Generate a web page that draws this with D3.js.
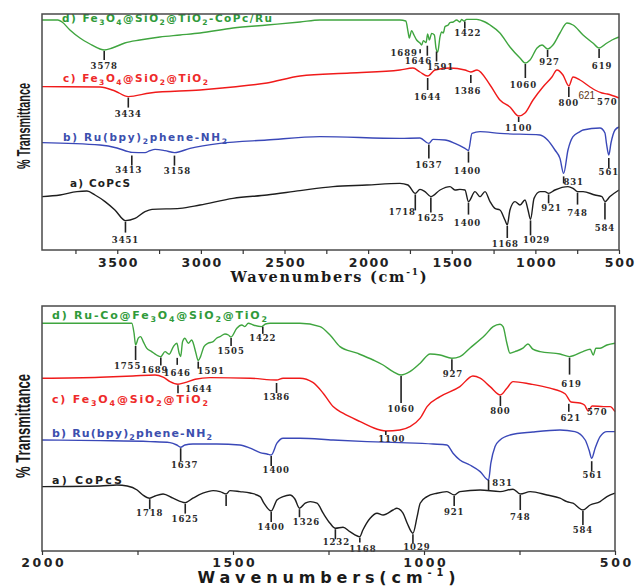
<!DOCTYPE html>
<html>
<head>
<meta charset="UTF-8">
<title>FTIR spectra</title>
<style>
  body { margin: 0; background: #fff; }
  .frame { fill: none; stroke: #4a4a4a; stroke-width: 1.5; }
  .curve { fill: none; stroke-width: 1.4; stroke-linejoin: round; }
  .axis path { display: none; }
  .axis line { stroke: #333; stroke-width: 1.2; }
  .axis text { font-family: "DejaVu Sans", sans-serif; font-weight: bold; fill: #222; }
  .peak { font-family: "DejaVu Serif", serif; font-weight: bold; font-size: 8.5px; letter-spacing: 0.9px; fill: #2a2a2a; text-anchor: middle; }
  .peak-line { stroke: #222; stroke-width: 1.6; }
  .name { font-family: "DejaVu Sans", sans-serif; font-weight: bold; }
  .ylab { font-family: "Liberation Sans Narrow", "Arial Narrow", sans-serif; font-weight: bold; fill: #1a1a1a; text-anchor: middle; }
</style>
</head>
<body>
<svg width="635" height="587"></svg>
<script src="https://d3js.org/d3.v7.min.js"></script>
<script>

// ---- data (wavenumber cm-1, relative transmittance) ----
var topTicks = [3500, 3000, 2500, 2000, 1500, 1000, 500];
var botTicks = [2000, 1500, 1000, 500];

var topD = [[3950,115],[3855,115],[3830,114],[3783,110],[3723,106],[3663,103],[3603,100.5],[3578,100],[3530,101],[3455,103.5],[3365,105],[3245,106.5],[3125,107.5],[3005,108.5],[2808,111],[2605,112.5],[2407,114],[2288,115],[1810,115],[1775,114.5],[1760,108.5],[1754,106],[1740,109.7],[1726,107.5],[1710,105],[1690,103.5],[1680,102.5],[1670,104.7],[1654,103.7],[1644,108],[1634,105],[1620,108.3],[1604,107.5],[1594,100.8],[1584,99],[1570,106.7],[1560,109],[1551,108.5],[1540,111.7],[1521,112.5],[1511,113.7],[1491,114],[1471,115],[1451,114],[1441,115.3],[1427,114.5],[1411,115.3],[1351,115.3],[1301,114],[1271,112.5],[1212,108.5],[1152,101.5],[1092,96],[1060,93.5],[1032,95],[990,101],[960,102.5],[927,100.5],[895,102.5],[853,108.5],[811,113.5],[775,112.5],[715,107.5],[656,103.5],[619,101],[572,103.5],[542,105],[500,106.5]];
var topC = [[3950,81.7],[3603,81.5],[3514,79.5],[3434,76.7],[3304,78.5],[3005,80],[2808,81.5],[2605,83.5],[2407,87],[2108,88.5],[1810,90],[1732,91],[1690,89],[1644,87],[1600,90],[1511,91],[1421,90],[1386,89],[1349,90],[1271,82.5],[1212,75],[1152,71.5],[1100,67],[1062,68.5],[1014,75],[955,81.5],[901,86.5],[871,90],[835,87.5],[800,82],[775,86.5],[733,85],[673,81.5],[644,80],[602,78.5],[570,78],[500,76]];
var topB = [[3950,53.7],[3603,52.5],[3502,51],[3434,49.2],[3413,48.8],[3334,48.7],[3304,49.7],[3274,50.3],[3215,49.7],[3158,48.7],[3065,50.8],[2886,53.3],[2605,55],[2288,56.7],[1810,55.8],[1690,56],[1637,53.3],[1612,55.3],[1540,55],[1481,53.3],[1421,50.8],[1400,49.7],[1379,58.3],[1331,59.2],[1212,58.3],[972,57.5],[927,55],[883,50],[853,45.8],[831,38.3],[805,50],[775,56.7],[733,59.2],[715,60],[614,61],[584,58.5],[575,53.3],[561,47.5],[548,53.5],[524,60],[500,61.5]];
var topA = [[3950,26.7],[3842,27.5],[3741,29.2],[3681,29.5],[3633,27.5],[3573,24.2],[3514,20],[3451,14.7],[3394,15.8],[3334,19.2],[3292,20.3],[3125,20.8],[3005,22.5],[2808,25.8],[2605,27.5],[2407,29.7],[2210,31.7],[2007,32.5],[1810,33.3],[1762,32.5],[1718,28.3],[1690,30.3],[1660,29.2],[1625,26.7],[1570,30],[1511,31.7],[1481,30],[1451,30.3],[1421,30],[1400,24.2],[1361,29.2],[1331,26.7],[1301,29.2],[1271,24.2],[1242,20.8],[1212,20],[1182,15],[1168,12.5],[1152,20],[1122,24.2],[1092,22.5],[1062,25],[1044,20],[1029,15.3],[1008,25.8],[972,29.2],[943,29.2],[921,28.3],[883,30],[805,31.7],[775,30.8],[748,29.2],[715,29.2],[644,27.5],[602,26.7],[584,24.2],[554,26.7],[500,30]];

var botD = [[2000,113.9],[1765,113.9],[1759,108.9],[1755,103],[1748,106.4],[1742,107.2],[1735,104.7],[1726,101.4],[1713,99.7],[1700,98],[1689,97.2],[1678,99.7],[1667,98.4],[1656,102.2],[1647,103.9],[1641,98.9],[1637,97.2],[1632,104.7],[1626,106.4],[1617,103.9],[1608,105.5],[1604,103.9],[1597,98.9],[1591,95.2],[1585,97.2],[1576,102.2],[1565,103.9],[1552,104.7],[1543,106.4],[1534,107.2],[1521,108.5],[1512,108],[1505,107],[1490,111.4],[1477,113],[1469,112.2],[1460,113.9],[1447,113],[1425,112.2],[1415,113.5],[1403,113.9],[1325,113.9],[1272,112.2],[1246,108],[1220,102.2],[1175,98.9],[1133,95.5],[1107,93],[1081,89.7],[1060,88],[1037,89.7],[1010,93.9],[984,98.5],[958,98],[927,96.4],[906,97.2],[880,101.4],[840,108],[819,112.2],[801,113.4],[793,112.2],[783,103.9],[775,98.9],[762,99.7],[741,101.4],[728,103.5],[715,100.9],[696,99.7],[644,98.5],[619,97.2],[584,99.7],[565,100.9],[557,98],[550,101.4],[539,101.4],[521,103],[500,103.9]];
var botC = [[2000,86.4],[1848,86.9],[1762,87.5],[1704,88],[1683,86.9],[1665,84.7],[1644,83.4],[1626,84.2],[1599,85.9],[1560,86.7],[1455,86.4],[1386,85.5],[1369,86.4],[1325,86.4],[1291,84.3],[1264,78.9],[1238,72.2],[1212,68.9],[1167,64.7],[1115,60.5],[1100,60],[1063,60.5],[1037,62.2],[1010,66.4],[992,72.2],[958,77.2],[906,82.2],[872,87.5],[853,86.4],[827,82.2],[800,78],[783,81.4],[767,84.7],[722,83.5],[670,81.4],[630,78.5],[615,74.5],[592,74],[580,73],[570,70],[560,72.5],[530,72.2],[513,72.2],[500,69.7]];
var botB = [[2000,55.5],[1848,55.2],[1717,54.7],[1665,54.2],[1647,53],[1637,51.9],[1626,53],[1605,53.5],[1542,53.5],[1482,53],[1455,51.4],[1429,49.2],[1411,48.5],[1400,48],[1385,53.9],[1369,56.4],[1325,56.4],[1238,55.5],[1149,54.7],[1063,54.2],[976,53.5],[940,53],[924,48.9],[906,45.5],[880,43],[853,39.7],[831,35.5],[825,43.9],[814,52.2],[801,55.5],[775,58],[715,59.5],[644,60.5],[605,59.7],[578,55.5],[568,50.5],[561,46.4],[552,51.4],[539,57.2],[521,59.7],[500,59.7]];
var botA = [[2000,32.2],[1848,32.5],[1804,33],[1777,32.5],[1751,30.5],[1736,28],[1718,26.4],[1704,27.5],[1683,28.5],[1657,26.4],[1625,24.2],[1605,26.4],[1579,28.9],[1552,30.2],[1534,29.7],[1518,28.5],[1508,30.2],[1482,29.7],[1455,29],[1429,27.2],[1419,23.9],[1400,20],[1385,25.5],[1369,27.2],[1351,28],[1338,26],[1326,21.4],[1311,23.9],[1298,24.7],[1280,23.9],[1264,18.9],[1246,13.9],[1232,11.4],[1212,11.9],[1194,9.7],[1168,7.2],[1160,10.5],[1141,16.4],[1123,18.9],[1107,18],[1081,20.5],[1071,21.4],[1055,18.9],[1044,13.9],[1029,8.9],[1018,17.2],[1010,23.9],[992,27.2],[966,28.9],[940,29.7],[921,28],[906,29.7],[853,30.5],[801,29.7],[767,30.9],[748,28.5],[722,29.7],[678,28],[644,26.4],[626,24.7],[610,23.9],[584,20.5],[565,23],[539,24.7],[521,27.2],[500,28.9]];

// peak positions marked on each trace
var peaksTopD = [3578, 1689, 1646, 1591, 1422, 1060, 927, 619];
var peaksTopC = [3434, 1644, 1386, 1100, 800, 621, 570];
var peaksTopB = [3413, 3158, 1637, 1400, 831, 561];
var peaksTopA = [3451, 1718, 1625, 1400, 1168, 1029, 921, 748, 584];
var peaksBotD = [1755, 1689, 1646, 1591, 1505, 1422, 1060, 927, 619];
var peaksBotC = [1644, 1386, 1100, 800, 621, 570];
var peaksBotB = [1637, 1400, 831, 561];
var peaksBotA = [1718, 1625, 1400, 1326, 1232, 1168, 1029, 921, 748, 584];
var ticksOnlyBotA = [1518];

var namesTop = ["a) CoPcS", "b) Ru(bpy)_2phene-NH_2", "c) Fe_3O_4@SiO_2@TiO_2", "d) Fe_3O_4@SiO_2@TiO_2-CoPc/Ru"];
var namesBot = ["a) CoPcS", "b) Ru(bpy)_2phene-NH_2", "c) Fe_3O_4@SiO_2@TiO_2", "d) Ru-Co@Fe_3O_4@SiO_2@TiO_2"];

// ---- layout / styling ----
var colors = ["#1e1e1e", "#3a48b8", "#f01a1a", "#3fa53f"];
var nameColors = ["#1e1e1e", "#3c4fae", "#ee2a2a", "#2f9a3a"];

// annotation offsets: [gap below curve, tick length, label dx, label dy]
var layTop = [
  [[1,11,0,7],[1,16,-13,2],[1,15,0,5],[1,12,-1,8],[1,12,-2,6],[1,15,6,5],[1,9,3,5],[1,12,0,8],[1,17,0,8]],
  [[3,10,-3,5],[3,10,3,5],[1,14,0,7],[1,11,-1,8],[3,7,10,-1],[3,10,0,4]],
  [[1,10,0,6],[2,12,0,7],[3,8,-3,8],[1,5,0,6],[1,10,0,6],[0,0,-12,4],[0,0,0,8]],
  [[1,9,0,6],[6,4,-16,0],[10,10,-9,5],[2,10,4,6],[1,7,3,5],[1,14,-2,7],[1,7,2,5],[1,9,3,8]]
];
var layBot = [
  [[1,10,0,4],[1,10,0,5],[1,10,0,5],[1,8,7,5],[1,10,1,3],[1,5,3,6],[1,9,4,4],[1,10,0,6],[1,15,0,7],[1,14,0,5]],
  [[1,13,4,4],[1,10,5,4],[0,10,14,-7],[3,10,1,4]],
  [[1,8,21,-4],[3,10,0,4],[0,4,6,4],[1,10,0,5],[5,8,2,6],[0,0,9,1]],
  [[1,14,-8,6],[1,8,-6,4],[13,7,0,8],[1,7,13,2],[1,8,0,5],[1,7,0,4],[1,27,0,6],[1,11,1,4],[1,17,2,9]]
];

var panels = [
  { left: 42, right: 619, top: 14, bottom: 250, dom: [3950, 500], vmax: 118,
    ticks: topTicks, minor: d3.range(3750, 500, -500), tickSize: 12.5, tickSpace: 1.6, tickY: 262,
    series: [topA, topB, topC, topD], peaks: [peaksTopA, peaksTopB, peaksTopC, peaksTopD], lay: layTop,
    names: namesTop, nameX: [70, 63, 63, 62], nameY: [187, 141, 82, 22], nameLen: [60, 164, 145, 210], nameSize: 10.5,
    title: "Wavenumbers (cm^-1)", titleY: 282, titleLen: 196, titleSize: 14.5, titleFont: "DejaVu Serif",
    ylabY: 126, ylabLen: 86, ylabSize: 18 },
  { left: 42, right: 615, top: 306, bottom: 551, dom: [2000, 500], vmax: 122.5,
    ticks: botTicks, minor: [1750, 1250, 750], tickSize: 12.5, tickSpace: 2.6, tickY: 562,
    series: [botA, botB, botC, botD], peaks: [peaksBotA, peaksBotB, peaksBotC, peaksBotD], lay: layBot,
    names: namesBot, nameX: [52, 52, 52, 52], nameY: [484, 437, 403, 319], nameLen: [70, 160, 156, 215], nameSize: 11,
    title: "Wavenumbers(cm^-1)", titleY: 583, titleLen: 258, titleSize: 16, titleFont: "DejaVu Sans",
    ylabY: 426, ylabLen: 104, ylabSize: 21 }
];

var svg = d3.select("svg");

// text with _x subscripts and ^-1 superscript
function rich(sel, str, size) {
  var parts = str.match(/_.|\^-1|[^_^]+/g);
  var shift = 0;
  parts.forEach(function (p) {
    var t = sel.append("tspan"), s = 0, txt = p;
    if (p[0] === "_") { s = size * 0.3; txt = p.slice(1); t.attr("font-size", size * 0.72); }
    else if (p[0] === "^") { s = -size * 0.45; txt = p.slice(1); t.attr("font-size", size * 0.62); }
    t.attr("dy", s - shift).text(txt);
    shift = s;
  });
}

function valueAt(series, wn) {
  for (var i = 0; i < series.length - 1; i++) {
    var a = series[i], b = series[i + 1];
    if (wn <= a[0] && wn >= b[0]) {
      var t = (a[0] - wn) / (a[0] - b[0] || 1);
      return a[1] + (b[1] - a[1]) * t;
    }
  }
  return series[series.length - 1][1];
}

panels.forEach(function (p) {
  var x = d3.scaleLinear().domain(p.dom).range([p.left, p.right]);
  var y = d3.scaleLinear().domain([0, p.vmax]).range([p.bottom, p.top]);
  var g = svg.append("g");

  var line = d3.line()
      .x(function (d) { return x(d[0]); })
      .y(function (d) { return y(d[1]); })
      .curve(d3.curveMonotoneX);

  p.series.forEach(function (s, i) {
    g.append("path").attr("class", "curve").attr("d", line(s)).attr("stroke", colors[i]);
  });

  // peak markers
  p.series.forEach(function (s, i) {
    p.peaks[i].forEach(function (wn, j) {
      var l = p.lay[i][j];
      var cx = x(wn), cy = y(valueAt(s, wn));
      var t0 = cy + l[0], t1 = t0 + l[1];
      if (l[1] > 0) {
        g.append("line").attr("class", "peak-line")
            .attr("x1", cx).attr("x2", cx).attr("y1", t0).attr("y2", t1);
      }
      var lab = g.append("text").attr("class", "peak")
          .attr("x", cx + l[2]).attr("y", t1 + l[3]).attr("dy", "0.35em").text(wn);
      if (p === panels[0] && wn === 621) {
        lab.style("font-family", "'Liberation Sans', sans-serif").style("font-weight", "normal")
            .style("font-size", "10px").style("letter-spacing", "0px").style("fill", "#5a3414");
      }
    });
  });
  if (p === panels[1]) {
    ticksOnlyBotA.forEach(function (wn) {
      var cx = x(wn), cy = y(valueAt(botA, wn));
      g.append("line").attr("class", "peak-line")
          .attr("x1", cx).attr("x2", cx).attr("y1", cy + 1).attr("y2", cy + 12);
    });
  }

  // trace names
  p.names.forEach(function (n, i) {
    var t = g.append("text").attr("class", "name")
        .attr("x", p.nameX[i]).attr("y", p.nameY[i])
        .attr("font-size", p.nameSize).attr("fill", nameColors[i])
        .attr("textLength", p.nameLen[i]).attr("lengthAdjust", "spacing");
    rich(t, n, p.nameSize);
  });

  // frame
  g.append("rect").attr("class", "frame")
      .attr("x", p.left).attr("y", p.top)
      .attr("width", p.right - p.left).attr("height", p.bottom - p.top);

  // x axis
  var ax = g.append("g").attr("class", "axis")
      .attr("transform", "translate(0," + p.bottom + ")")
      .call(d3.axisBottom(x).tickValues(p.ticks).tickSize(4).tickFormat(d3.format("d")));
  ax.selectAll("text")
      .attr("font-size", p.tickSize)
      .attr("letter-spacing", p.tickSpace)
      .attr("dx", p.tickSpace / 2)
      .attr("y", p.tickY - p.bottom)
      .attr("dy", "0.36em");
  g.append("g").attr("class", "axis")
      .attr("transform", "translate(0," + p.bottom + ")")
      .call(d3.axisBottom(x).tickValues(p.minor).tickSize(4).tickFormat(""));

  var tt = g.append("text")
      .attr("x", (p.left + p.right) / 2 - 2).attr("y", p.titleY)
      .attr("text-anchor", "middle")
      .attr("font-family", p.titleFont).attr("font-weight", "bold")
      .attr("font-size", p.titleSize).attr("fill", "#1a1a1a")
      .attr("textLength", p.titleLen).attr("lengthAdjust", "spacing");
  rich(tt, p.title, p.titleSize);

  g.append("text").attr("class", "ylab")
      .attr("transform", "translate(30," + p.ylabY + ") rotate(-90)")
      .attr("font-size", p.ylabSize)
      .attr("textLength", p.ylabLen).attr("lengthAdjust", "spacingAndGlyphs")
      .text("% Transmittance");
});

</script>
</body>
</html>
